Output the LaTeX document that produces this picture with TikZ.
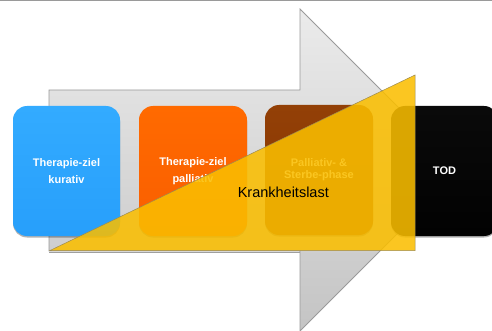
\documentclass[tikz,border=0pt]{standalone}
\usepackage{fontspec}
\setmainfont{Liberation Sans}
\usetikzlibrary{shadows}
\definecolor{arrowline}{HTML}{9A9A9A}
\definecolor{arrowtop}{HTML}{EBEBEB}
\definecolor{arrowbot}{HTML}{C4C4C4}
\definecolor{bluetop}{HTML}{33ABFF}
\definecolor{bluebot}{HTML}{279FFB}
\definecolor{orangetop}{HTML}{FF6A00}
\definecolor{orangebot}{HTML}{F95E00}
\definecolor{browntop}{HTML}{934006}
\definecolor{brownbot}{HTML}{873503}
\definecolor{blacktop}{HTML}{0A0A0A}
\definecolor{blackbot}{HTML}{020202}
\definecolor{burden}{RGB}{250,190,0}
\definecolor{burdenline}{HTML}{9C8A50}
\tikzset{
  phasebox/.style={rounded corners=14pt, inner sep=0pt, minimum height=130pt,
    text=white, align=center,
    font=\fontsize{11}{16.5}\selectfont\bfseries,
    drop shadow={shadow xshift=0pt, shadow yshift=-1.5pt, opacity=0.3, fill=black}},
}
\begin{document}
\begin{tikzpicture}[x=1pt,y=-1pt]
\useasboundingbox (0,0) rectangle (492,331);
% top rule
\draw[color=arrowline, line width=1.2pt] (0,0.6) -- (492,0.6);
% big arrow
\draw[arrowline, line width=0.8pt, top color=arrowtop, bottom color=arrowbot]
  (49,90) -- (300,90) -- (300,9) -- (461,170) -- (300,331) -- (300,251) -- (49,251) -- cycle;
\draw[color=gray!75, line width=1pt] (49,252.3) -- (300,252.3);
% phase boxes
\node[phasebox, minimum width=107pt, top color=bluetop, bottom color=bluebot]
  (kurativ) at (66.5,171) {Therapie-ziel\\kurativ};
\node[phasebox, minimum width=108pt, top color=orangetop, bottom color=orangebot]
  (palliativ) at (193,171) {Therapie-ziel\\palliativ};
\node[phasebox, minimum width=108pt, top color=browntop, bottom color=brownbot,
  font=\fontsize{11}{11.8}\selectfont\bfseries]
  (sterbe) at (319,170) {Palliativ- \&\\Sterbe-phase};
\node[phasebox, minimum width=107pt, top color=blacktop, bottom color=blackbot]
  (tod) at (444.5,171) {TOD};
% burden triangle
\draw[burdenline, line width=0.5pt, fill=burden, fill opacity=0.87]
  (50,250.5) -- (415,75) -- (415,250.5) -- cycle;
\node[font=\fontsize{14.5}{17}\selectfont, text=black] (last) at (283.3,192.5) {Krankheitslast};
\end{tikzpicture}
\end{document}
